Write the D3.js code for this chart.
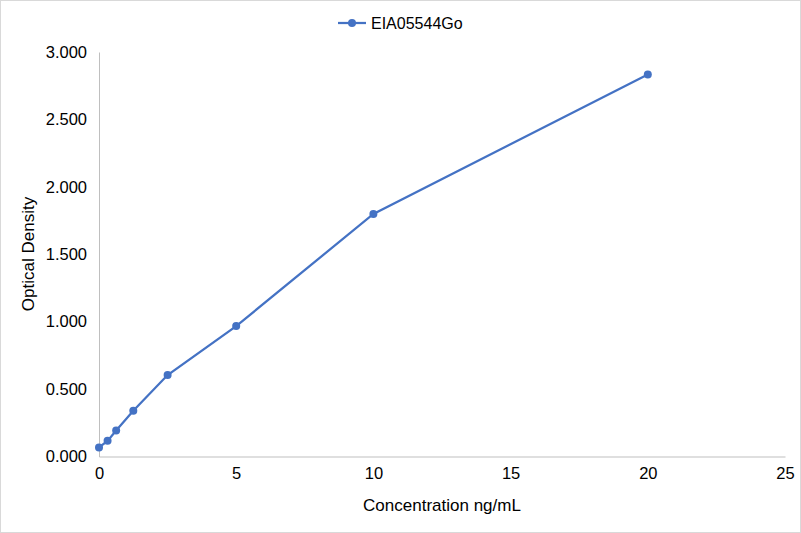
<!DOCTYPE html>
<html>
<head>
<meta charset="utf-8">
<script src="https://cdn.jsdelivr.net/npm/d3@7"></script>
<style>
  body { margin: 0; background: #fff; }
  text { font-family: "Liberation Sans", Arial, sans-serif; fill: #000; }
</style>
</head>
<body>
<div id="chart"></div>
<script>
// data
const concentrations = [0, 0.3125, 0.625, 1.25, 2.5, 5, 10, 20];
const densities = [0.067, 0.116, 0.193, 0.339, 0.604, 0.967, 1.799, 2.833];
const xTicks = [0, 5, 10, 15, 20, 25];
const yTicks = [0, 0.5, 1, 1.5, 2, 2.5, 3];
const seriesName = "EIA05544Go";

const W = 801, H = 533;
const color = "#4472C4";

const svg = d3.select("#chart")
    .append("svg")
    .attr("width", W)
    .attr("height", H);

// outer border
svg.append("rect")
    .attr("x", 0.5).attr("y", 0.5)
    .attr("width", W - 1).attr("height", H - 1)
    .attr("fill", "#fff")
    .attr("stroke", "#d9d9d9");

const x = d3.scaleLinear().domain([0, 25]).range([99, 785]);
const y = d3.scaleLinear().domain([0, 3]).range([456.5, 52]);

// x axis
const xAxis = svg.append("g")
    .attr("transform", `translate(0,${y(0)})`)
    .call(d3.axisBottom(x).tickValues(xTicks).tickSize(0).tickPadding(11).tickFormat(d3.format("d")));
xAxis.select(".domain").attr("stroke", "#bfbfbf");
xAxis.selectAll("text").attr("font-size", 16.5).style("font-family", "Liberation Sans, Arial, sans-serif").attr("fill", "#000");

// y axis
const yAxis = svg.append("g")
    .attr("transform", `translate(${x(0)},0)`)
    .call(d3.axisLeft(y).tickValues(yTicks).tickSize(0).tickPadding(12).tickFormat(d3.format(".3f")));
yAxis.select(".domain").attr("stroke", "#bfbfbf");
yAxis.selectAll("text").attr("font-size", 16.5).style("font-family", "Liberation Sans, Arial, sans-serif").attr("fill", "#000");

// axis titles
svg.append("text")
    .attr("x", 442).attr("y", 511)
    .attr("text-anchor", "middle")
    .attr("font-size", 17)
    .text("Concentration ng/mL");

svg.append("text")
    .attr("transform", "translate(34,254) rotate(-90)")
    .attr("text-anchor", "middle")
    .attr("font-size", 17)
    .text("Optical Density");

// series
const pts = concentrations.map((c, i) => ({ c, v: densities[i] }));
const line = d3.line().x(d => x(d.c)).y(d => y(d.v));

svg.append("path")
    .datum(pts)
    .attr("fill", "none")
    .attr("stroke", color)
    .attr("stroke-width", 2.25)
    .attr("d", line);

svg.selectAll("circle.pt")
    .data(pts)
    .enter().append("circle")
    .attr("class", "pt")
    .attr("cx", d => x(d.c))
    .attr("cy", d => y(d.v))
    .attr("r", 4)
    .attr("fill", color);

// legend
const lg = svg.append("g").attr("transform", "translate(338,23)");
lg.append("line").attr("x1", 0).attr("x2", 28).attr("stroke", color).attr("stroke-width", 2.25);
lg.append("circle").attr("cx", 14).attr("r", 4).attr("fill", color);
lg.append("text").attr("x", 33).attr("y", 6).attr("font-size", 16).text(seriesName);
</script>
</body>
</html>
